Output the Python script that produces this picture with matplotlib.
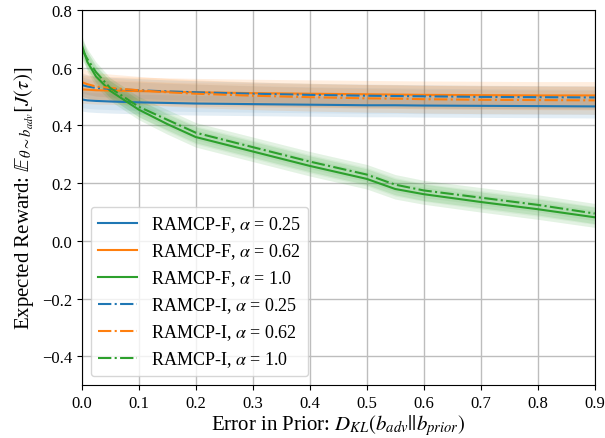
import matplotlib
matplotlib.use("Agg")
import matplotlib.pyplot as plt
import numpy as np

plt.rcParams['font.family'] = ['Liberation Serif', 'DejaVu Serif']
plt.rcParams['mathtext.fontset'] = 'stix'

# error in prior (KL)
kl = [0.0, 0.01, 0.025, 0.05, 0.1, 0.15, 0.2, 0.3, 0.4, 0.5, 0.55, 0.6, 0.7, 0.8, 0.9]

# RAMCP-F means
f_025 = [0.49, 0.487, 0.485, 0.483, 0.48, 0.478, 0.476, 0.474, 0.472, 0.47, 0.47, 0.469, 0.468, 0.467, 0.466]
f_062 = [0.525, 0.524, 0.522, 0.521, 0.519, 0.517, 0.515, 0.512, 0.51, 0.508, 0.507, 0.506, 0.505, 0.504, 0.504]
f_100 = [0.68, 0.62, 0.57, 0.52, 0.455, 0.405, 0.36, 0.31, 0.26, 0.215, 0.18, 0.162, 0.135, 0.11, 0.082]

# RAMCP-I means
i_025 = [0.54, 0.535, 0.53, 0.527, 0.522, 0.518, 0.515, 0.51, 0.506, 0.503, 0.502, 0.501, 0.499, 0.498, 0.497]
i_062 = [0.55, 0.543, 0.535, 0.53, 0.522, 0.515, 0.51, 0.503, 0.498, 0.494, 0.493, 0.491, 0.489, 0.488, 0.487]
i_100 = [0.665, 0.63, 0.585, 0.53, 0.465, 0.42, 0.375, 0.325, 0.275, 0.23, 0.195, 0.175, 0.15, 0.125, 0.095]

# band half-widths
spread_025 = 0.04
spread_062 = 0.048
spread_100 = 0.035

blue, orange, green = '#1f77b4', '#ff7f0e', '#2ca02c'

fig, ax = plt.subplots(figsize=(6.05, 4.39), dpi=100)

series = [
    (f_025, blue, '-', spread_025, r'RAMCP-F, $\alpha$ = 0.25'),
    (f_062, orange, '-', spread_062, r'RAMCP-F, $\alpha$ = 0.62'),
    (f_100, green, '-', spread_100, r'RAMCP-F, $\alpha$ = 1.0'),
    (i_025, blue, '-.', spread_025, r'RAMCP-I, $\alpha$ = 0.25'),
    (i_062, orange, '-.', spread_062, r'RAMCP-I, $\alpha$ = 0.62'),
    (i_100, green, '-.', spread_100, r'RAMCP-I, $\alpha$ = 1.0'),
]

x = np.array(kl)
for vals, col, ls, sp, lab in series:
    y = np.array(vals)
    ax.fill_between(x, y - sp, y + sp, color=col, alpha=0.13, linewidth=0)
    ax.fill_between(x, y - sp * 0.7, y + sp * 0.7, color=col, alpha=0.08, linewidth=0)

for vals, col, ls, sp, lab in series:
    ax.plot(x, vals, color=col, linestyle=ls, linewidth=1.5, label=lab)

ax.set_xlim(0, 0.9)
ax.set_ylim(-0.5, 0.8)
ax.set_xticks(np.arange(0, 0.91, 0.1))
ax.set_yticks([-0.4, -0.2, 0.0, 0.2, 0.4, 0.6, 0.8])
ax.set_xticklabels([f'{v:.1f}' for v in np.arange(0, 0.91, 0.1)])
ax.set_yticklabels(['\u22120.4', '\u22120.2', '0.0', '0.2', '0.4', '0.6', '0.8'])
ax.tick_params(labelsize=12)
ax.grid(True, color='#bdbdbd', linewidth=1)
ax.set_axisbelow(True)

ax.set_xlabel(r'Error in Prior: $D_{KL}(b_{adv}||b_{prior})$', fontsize=15, labelpad=1)
ax.set_ylabel(r'Expected Reward: $\mathbb{E}_{\theta\sim b_{adv}}[J(\tau)]$', fontsize=15)

ax.legend(loc='lower left', fontsize=13, handlelength=2.15, framealpha=0.8,
          labelspacing=0.4, bbox_to_anchor=(0.0, 0.0), borderaxespad=0.5)

plt.subplots_adjust(left=0.135, right=0.983, top=0.975, bottom=0.12)
plt.savefig('out.png', dpi=100)
